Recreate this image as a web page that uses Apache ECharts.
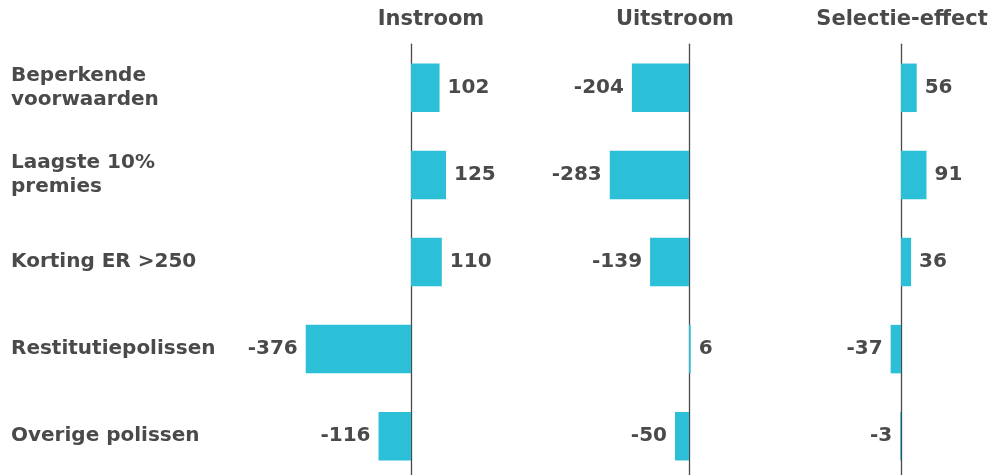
<!DOCTYPE html>
<html>
<head>
<meta charset="utf-8">
<script src="https://cdn.jsdelivr.net/npm/echarts@6/dist/echarts.min.js"></script>
<style>
  html, body { margin: 0; padding: 0; background: #fff; }
  #chart { width: 999px; height: 475px; }
</style>
</head>
<body>
<div id="chart"></div>
<script>
// Categories (top to bottom) and the three effect series
const categories = ['Beperkende\nvoorwaarden', 'Laagste 10%\npremies', 'Korting ER >250', 'Restitutiepolissen', 'Overige polissen'];
const instroom = [102, 125, 110, -376, -116];
const uitstroom = [-204, -283, -139, 6, -50];
const selectie = [56, 91, 36, -37, -3];
const panelTitles = ['Instroom', 'Uitstroom', 'Selectie-effect'];

const FONT = '"DejaVu Sans", sans-serif';
const TEXT = '#4a4a4a';
const BAR = '#2bbfd8';

// shared pixel scale for all panels (px per unit)
const SCALE = 0.28;
const panels = [
  { zero: 411, min: -400, max: 150, data: instroom, titleX: 431 },
  { zero: 689, min: -300, max: 100, data: uitstroom, titleX: 675 },
  { zero: 901, min: -100, max: 150, data: selectie, titleX: 902 }
];

const gridTop = 44.25, gridHeight = 435.5;
const labelLeft = 11;

const chart = echarts.init(document.getElementById('chart'));

const grid = [], xAxis = [], yAxis = [], series = [], graphic = [];
panels.forEach((p, i) => {
  const left = p.zero + p.min * SCALE;
  grid.push({
    left: left,
    width: (p.max - p.min) * SCALE,
    top: gridTop,
    height: gridHeight,
    containLabel: false,
    outerBoundsMode: 'none'
  });
  xAxis.push({
    type: 'value', gridIndex: i, min: p.min, max: p.max, show: false
  });
  yAxis.push({
    type: 'category', gridIndex: i, data: categories, inverse: true,
    axisTick: { show: false },
    axisLine: { show: true, onZero: true, lineStyle: { color: TEXT, width: 1.3 } },
    splitLine: { show: false },
    axisLabel: i === 0 ? {
      show: true, align: 'left', margin: left - labelLeft,
      fontFamily: FONT, fontWeight: 'bold', fontSize: 20, color: TEXT, lineHeight: 24
    } : { show: false }
  });
  series.push({
    type: 'bar', xAxisIndex: i, yAxisIndex: i,
    barWidth: 48.5,
    itemStyle: { color: BAR },
    data: p.data.map(v => ({
      value: v,
      label: { position: v < 0 ? 'left' : 'right' }
    })),
    label: {
      show: true, distance: 8, formatter: '{c}',
      fontFamily: FONT, fontWeight: 'bold', fontSize: 20, color: TEXT
    },
    z: 1
  });
  graphic.push({
    type: 'text', x: p.titleX, y: 20,
    style: {
      text: panelTitles[i], fill: TEXT, align: 'center', verticalAlign: 'middle',
      font: 'bold 21px ' + FONT
    }
  });
});

chart.setOption({
  animation: false,
  backgroundColor: '#fff',
  grid, xAxis, yAxis, series, graphic
});
</script>
</body>
</html>
